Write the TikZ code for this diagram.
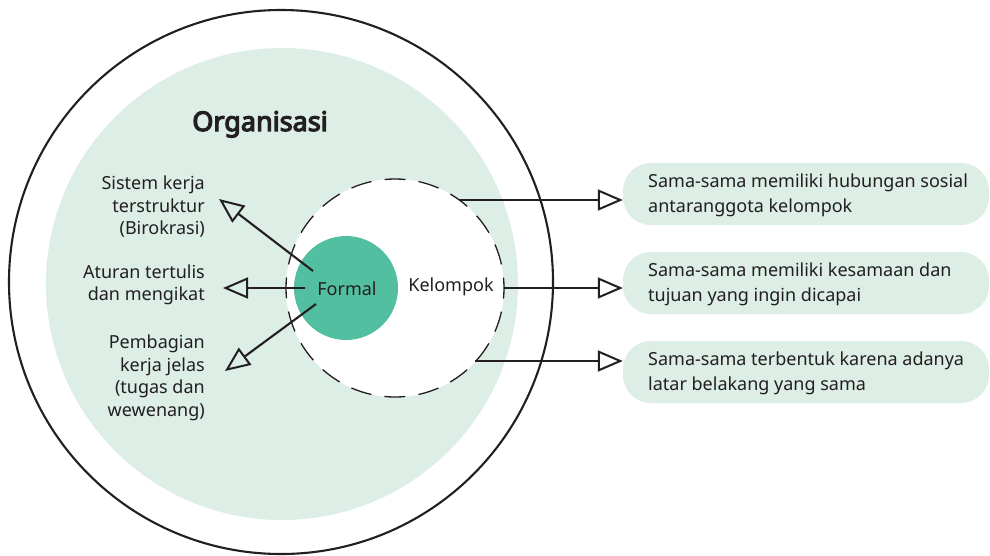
\documentclass[tikz,border=0pt]{standalone}
\usepackage{fontspec}
\setmainfont{Noto Sans}
\newfontfamily\titlefont{Noto Sans}[AutoFakeBold=4.5]
\usetikzlibrary{arrows.meta}
\definecolor{lightg}{HTML}{DCEEE5}
\definecolor{midg}{HTML}{52BFA0}
\definecolor{ink}{HTML}{231F20}
\begin{document}
\begin{tikzpicture}[x=1pt,y=-1pt,
  lefttxt/.style={text=ink, align=right, inner sep=0pt, font=\fontsize{18}{22.5}\selectfont},
  righttxt/.style={text=ink, align=left, inner sep=0pt, font=\fontsize{18}{25}\selectfont},
  box/.style={fill=lightg, rounded corners=28pt, minimum width=366pt, minimum height=62pt, inner sep=0pt},
  arr/.style={draw=ink, line width=2.1pt, -{Triangle[open, length=25pt, width=21pt, line width=2pt]}}]
\fill[white] (0,0) rectangle (990,555);
\useasboundingbox (0,0) rectangle (990,555);
% circles
\node[circle, fill=lightg, minimum size=472pt, inner sep=0pt] (orgfill) at (282,284) {};
\node[circle, draw=ink, line width=2.1pt, minimum size=544pt, inner sep=0pt] (org) at (281,282) {};
\node[circle, fill=white, draw=ink, line width=1.3pt, dash pattern=on 21pt off 13.24pt, dash phase=10.5pt, minimum size=218pt, inner sep=0pt] (kel) at (395,288) {};
\node[circle, fill=midg, minimum size=104pt, inner sep=0pt] (formal) at (346,288) {};
% title
\node[text=ink, font=\titlefont\fontsize{27}{30}\selectfont\bfseries, anchor=base] (title) at (260,131) {Organisasi};
% inner labels
\node[text=ink, font=\fontsize{18}{22}\selectfont, inner sep=0pt] (formaltxt) at (347,289) {Formal};
\node[text=ink, font=\fontsize{18}{22}\selectfont, inner sep=0pt] (keltxt) at (451,287) {Kelompok};
% left labels
\node[lefttxt, anchor=east] (l1) at (205,207) {Sistem kerja\\terstruktur\\(Birokrasi)};
\node[lefttxt, anchor=east] (l2) at (205,285) {Aturan tertulis\\dan mengikat};
\node[lefttxt, anchor=east] (l3) at (205,378) {Pembagian\\kerja jelas\\(tugas dan\\wewenang)};
% left arrows
\coordinate (a1s) at (313,271);
\coordinate (a1e) at (219,199);
\coordinate (a2s) at (305,288);
\coordinate (a2e) at (223,288);
\coordinate (a3s) at (316,304);
\coordinate (a3e) at (225,371);
\draw[arr] (a1s) -- (a1e);
\draw[arr] (a2s) -- (a2e);
\draw[arr] (a3s) -- (a3e);
% right boxes
\node[box] (b1) at (806,194) {};
\node[box] (b2) at (806,283) {};
\node[box] (b3) at (806,372) {};
\node[righttxt, anchor=west] (r1) at (648,195) {Sama-sama memiliki hubungan sosial\\antaranggota kelompok};
\node[righttxt, anchor=west] (r2) at (648,284) {Sama-sama memiliki kesamaan dan\\tujuan yang ingin dicapai};
\node[righttxt, anchor=west] (r3) at (648,373) {Sama-sama terbentuk karena adanya\\latar belakang yang sama};
% right arrows
\coordinate (k1) at (459,200);
\coordinate (k2) at (504,288);
\coordinate (k3) at (475,361);
\draw[arr] (k1) -- (k1 -| b1.west);
\draw[arr] (k2) -- (k2 -| b2.west);
\draw[arr] (k3) -- (k3 -| b3.west);
\end{tikzpicture}
\end{document}
